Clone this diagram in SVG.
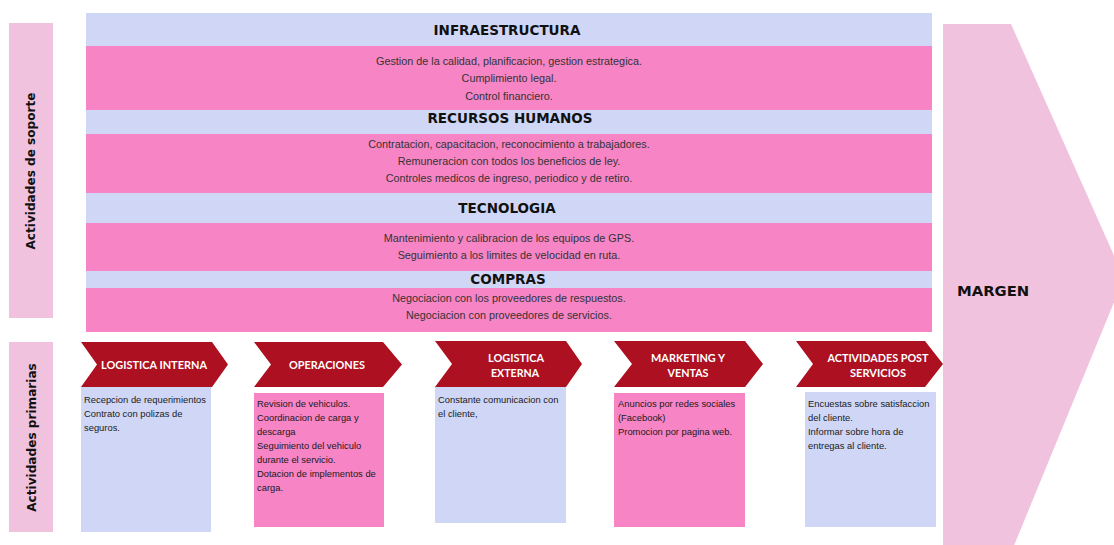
<svg xmlns="http://www.w3.org/2000/svg" width="1114" height="545" viewBox="0 0 1114 545">
<style>
.lav{fill:#d0d6f5}
.pnk{fill:#f784c5}
.lbl{fill:#f0c2dd}
.chev{fill:#ad1020}
.hdr{font-family:"DejaVu Sans",Verdana,sans-serif;font-weight:bold;font-size:13.5px;fill:#111;text-anchor:middle}
.body{font-family:"Liberation Sans",Arial,sans-serif;font-size:10.8px;fill:#333;text-anchor:middle}
.vlab{font-family:"DejaVu Sans",Verdana,sans-serif;font-weight:bold;font-size:12.1px;fill:#111;text-anchor:middle}
.ct{font-family:Lato,"Open Sans",sans-serif;font-weight:bold;font-size:11.5px;fill:#fff;text-anchor:middle}
.bt{font-family:"Liberation Sans",Arial,sans-serif;font-size:9.4px;fill:#1a1a1a}
</style>
<rect width="1114" height="545" fill="#fff"/>

<g id="margen">
<polygon class="lbl" points="943,24 1011,24 1124,278 1013,548 943,548"/>
<text x="957" y="296" font-family="DejaVu Sans,Verdana,sans-serif" font-weight="bold" font-size="14.8" fill="#111">MARGEN</text>
</g>

<g id="label-soporte">
<rect class="lbl" x="9" y="23" width="44" height="295"/>
<text class="vlab" transform="translate(35,171) rotate(-90)">Actividades de soporte</text>
</g>
<g id="label-primarias">
<rect class="lbl" x="9" y="342" width="44" height="190"/>
<text class="vlab" transform="translate(35.5,437.5) rotate(-90)">Actividades primarias</text>
</g>

<g id="infraestructura">
<rect class="lav" x="86" y="13" width="846" height="33"/>
<rect class="pnk" x="86" y="46" width="846" height="64"/>
<text class="hdr" x="507" y="35">INFRAESTRUCTURA</text>
<text class="body" x="509" y="64.5">Gestion de la calidad, planificacion, gestion estrategica.</text>
<text class="body" x="509" y="82">Cumplimiento legal.</text>
<text class="body" x="509" y="99.5">Control financiero.</text>
</g>
<g id="recursos-humanos">
<rect class="lav" x="86" y="110" width="846" height="24"/>
<rect class="pnk" x="86" y="134" width="846" height="59"/>
<text class="hdr" x="510" y="123">RECURSOS HUMANOS</text>
<text class="body" x="509" y="148">Contratacion, capacitacion, reconocimiento a trabajadores.</text>
<text class="body" x="509" y="165">Remuneracion con todos los beneficios de ley.</text>
<text class="body" x="509" y="182">Controles medicos de ingreso, periodico y de retiro.</text>
</g>
<g id="tecnologia">
<rect class="lav" x="86" y="193" width="846" height="30"/>
<rect class="pnk" x="86" y="223" width="846" height="48"/>
<text class="hdr" x="507" y="213">TECNOLOGIA</text>
<text class="body" x="509" y="242">Mantenimiento y calibracion de los equipos de GPS.</text>
<text class="body" x="509" y="258.5">Seguimiento a los limites de velocidad en ruta.</text>
</g>
<g id="compras">
<rect class="lav" x="86" y="271" width="846" height="17"/>
<rect class="pnk" x="86" y="288" width="846" height="44"/>
<text class="hdr" x="508" y="284">COMPRAS</text>
<text class="body" x="509" y="302">Negociacion con los proveedores de respuestos.</text>
<text class="body" x="509" y="319">Negociacion con proveedores de servicios.</text>
</g>

<g id="logistica-interna">
<polygon class="chev" points="81,342 212,342 228,364.5 212,387 81,387 97,364.5"/>
<text class="ct" x="154" y="369" textLength="106" lengthAdjust="spacingAndGlyphs">LOGISTICA INTERNA</text>
<rect class="lav" x="81" y="387" width="130" height="145"/>
<text class="bt" x="84" y="403">Recepcion de requerimientos</text>
<text class="bt" x="84" y="417">Contrato con polizas de</text>
<text class="bt" x="84" y="430.5">seguros.</text>
</g>

<g id="operaciones">
<polygon class="chev" points="254,342 383,342 402,364.5 383,387 254,387 271,364.5"/>
<text class="ct" x="327" y="369" textLength="76" lengthAdjust="spacingAndGlyphs">OPERACIONES</text>
<rect class="pnk" x="254" y="393" width="130" height="134"/>
<text class="bt" x="257" y="407">Revision de vehiculos.</text>
<text class="bt" x="257" y="421">Coordinacion de carga y</text>
<text class="bt" x="257" y="435">descarga</text>
<text class="bt" x="257" y="449">Seguimiento del vehiculo</text>
<text class="bt" x="257" y="463">durante el servicio.</text>
<text class="bt" x="257" y="477">Dotacion de implementos de</text>
<text class="bt" x="257" y="491">carga.</text>
</g>

<g id="logistica-externa">
<polygon class="chev" points="435,341 566,341 582,364 566,387 435,387 452,364"/>
<text class="ct" x="516" y="362" textLength="56" lengthAdjust="spacingAndGlyphs">LOGISTICA</text>
<text class="ct" x="515" y="377" textLength="48" lengthAdjust="spacingAndGlyphs">EXTERNA</text>
<rect class="lav" x="435" y="387" width="131" height="136"/>
<text class="bt" x="438" y="403">Constante comunicacion con</text>
<text class="bt" x="438" y="417">el cliente,</text>
</g>

<g id="marketing-ventas">
<polygon class="chev" points="614,341 745,341 763,364 745,387 614,387 632,364"/>
<text class="ct" x="688" y="362" textLength="74" lengthAdjust="spacingAndGlyphs">MARKETING Y</text>
<text class="ct" x="688" y="377" textLength="41" lengthAdjust="spacingAndGlyphs">VENTAS</text>
<rect class="pnk" x="614" y="393" width="131" height="134"/>
<text class="bt" x="618" y="407">Anuncios por redes sociales</text>
<text class="bt" x="618" y="421">(Facebook)</text>
<text class="bt" x="618" y="435">Promocion por pagina web.</text>
</g>

<g id="post-servicios">
<polygon class="chev" points="796,341 925,341 943,364 925,387 796,387 813,364"/>
<text class="ct" x="878" y="362" textLength="101" lengthAdjust="spacingAndGlyphs">ACTIVIDADES POST</text>
<text class="ct" x="878" y="377" textLength="56" lengthAdjust="spacingAndGlyphs">SERVICIOS</text>
<rect class="lav" x="805" y="392" width="131" height="135"/>
<text class="bt" x="808" y="407">Encuestas sobre satisfaccion</text>
<text class="bt" x="808" y="421">del cliente.</text>
<text class="bt" x="808" y="435">Informar sobre hora de</text>
<text class="bt" x="808" y="449">entregas al cliente.</text>
</g>

<g id="connectors"></g>
</svg>
